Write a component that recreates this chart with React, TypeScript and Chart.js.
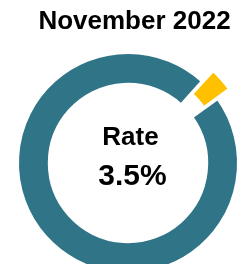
import React, { useEffect, useRef } from "react";
import { Chart, registerables } from "chart.js";

Chart.register(...registerables);

const titleText = "November 2022";
const labels = ["Rate", "Other"];
const values = [3.5, 96.5];
const centerLabel = "Rate";
const centerValue = "3.5%";
const colors = ["#FFC000", "#2F7587"];

const FONT = "'Liberation Sans', Arial, sans-serif";

const textPlugin = {
  id: "centerText",
  afterDatasetsDraw(chart: any) {
    const arc = chart.getDatasetMeta(0).data[1];
    if (!arc) return;
    const { ctx } = chart;
    const x = arc.x;
    const y = arc.y;
    ctx.save();
    ctx.fillStyle = "#000";
    ctx.textAlign = "center";
    ctx.textBaseline = "alphabetic";
    ctx.font = `bold 26px ${FONT}`;
    ctx.fillText(titleText, x + 6.5, 20.5);
    ctx.font = `bold 26px ${FONT}`;
    ctx.fillText(centerLabel, x + 2.5, y - 18);
    ctx.font = `bold 30px ${FONT}`;
    ctx.fillText(centerValue, x + 4.5, y + 22);
    ctx.restore();
  },
};

export default function App() {
  const ref = useRef<HTMLCanvasElement | null>(null);
  useEffect(() => {
    if (!ref.current) return;
    const chart = new Chart(ref.current, {
      type: "doughnut",
      data: {
        labels,
        datasets: [
          {
            data: values,
            backgroundColor: colors,
            borderColor: "#ffffff",
            borderWidth: 2,
            offset: [34, 0],
            hoverOffset: 0,
          },
        ],
      },
      options: {
        responsive: false,
        animation: false,
        rotation: 42,
        cutout: "72%",
        layout: { padding: { top: 27 } },
        plugins: {
          legend: { display: false },
          tooltip: { enabled: false },
          title: { display: false },
        },
      },
      plugins: [textPlugin],
    });
    return () => chart.destroy();
  }, []);
  return (
    <div style={{ width: 234, height: 256, overflow: "hidden", position: "relative" }}>
      <canvas
        ref={ref}
        width={258}
        height={283}
        style={{ position: "absolute", left: -9, top: 0, width: 258, height: 283 }}
      />
    </div>
  );
}
